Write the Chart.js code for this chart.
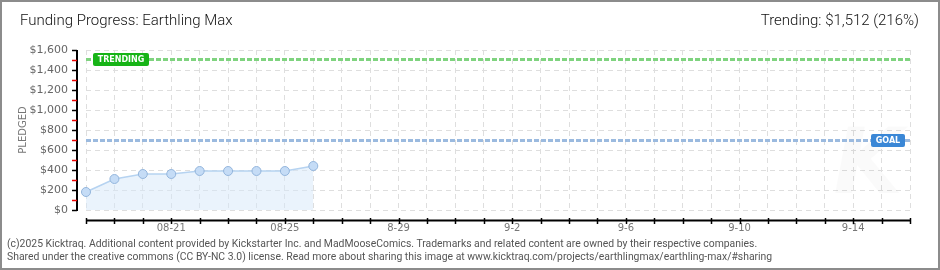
<!DOCTYPE html>
<html>
<head>
<meta charset="utf-8">
<script src="https://cdn.jsdelivr.net/npm/chart.js@4/dist/chart.umd.min.js"></script>
<style>
  html, body { margin: 0; padding: 0; background: #fff; }
  #wrap { position: relative; width: 940px; height: 270px; overflow: hidden; }
  #wrap canvas { position: absolute; left: 0; top: 0; }
  #frame { position: absolute; inset: 0; border: 2px solid #8c8c8c; pointer-events: none; }
  .title { position: absolute; top: 11px; font-family: Roboto, "DejaVu Sans", sans-serif; font-weight: 300; font-size: 15px; color: #111; white-space: nowrap; }
  #title { left: 20px; }
  #trend { right: 21px; }
  .foot { position: absolute; left: 7px; font-family: Roboto, "DejaVu Sans", sans-serif; font-size: 10.4px; color: #555; white-space: nowrap; }
</style>
</head>
<body>
<div id="wrap">
  <canvas id="chart" width="940" height="270"></canvas>
  <div class="title" id="title">Funding Progress: Earthling Max</div>
  <div class="title" id="trend">Trending: $1,512 (216%)</div>
  <div class="foot" style="top:237px">(c)2025 Kicktraq. Additional content provided by Kickstarter Inc. and MadMooseComics. Trademarks and related content are owned by their respective companies.</div>
  <div class="foot" style="top:250px">Shared under the creative commons (CC BY-NC 3.0) license. Read more about sharing this image at www.kicktraq.com/projects/earthlingmax/earthling-max/#sharing</div>
  <div id="frame"></div>
</div>
<script>
// Kicktraq funding progress — Earthling Max
const days = [
  '08-18', '08-19', '08-20', '08-21', '08-22', '08-23', '08-24', '08-25', '08-26', '08-27',
  '08-28', '08-29', '08-30', '08-31', '09-01', '09-02', '09-03', '09-04', '09-05', '09-06',
  '09-07', '09-08', '09-09', '09-10', '09-11', '09-12', '09-13', '09-14', '09-15', '09-16',
];
const pledged = [180, 310, 360, 360, 390, 390, 390, 390, 440];

const tickDays = ['08-21', '08-25', '08-29', '09-02', '09-06', '09-10', '09-14'];
const tickLabels = ['08-21', '08-25', '8-29', '9-2', '9-6', '9-10', '9-14'];

const yTicks = [0, 200, 400, 600, 800, 1000, 1200, 1400, 1600];
const goal = 700;
const trending = 1512;

const AXIS_FONT = "'DejaVu Sans', sans-serif";

// axis lines + tick marks sit a little outside the plot area
const axesPlugin = {
  id: 'kAxes',
  afterDraw(chart) {
    const { ctx, scales: { x, y } } = chart;
    ctx.save();
    // y axis
    const yx = 77;
    ctx.strokeStyle = '#000';
    ctx.lineWidth = 2;
    ctx.beginPath();
    ctx.moveTo(yx, y.getPixelForValue(1600));
    ctx.lineTo(yx, y.getPixelForValue(0) + 1);
    ctx.stroke();
    for (let v = 0; v <= 1600; v += 100) {
      const py = Math.round(y.getPixelForValue(v)) + 0.5;
      ctx.strokeStyle = v % 200 === 0 ? '#000' : '#e00';
      ctx.lineWidth = 1.5;
      ctx.beginPath();
      ctx.moveTo(72, py);
      ctx.lineTo(yx, py);
      ctx.stroke();
    }
    // x axis
    const xy = 220.5;
    ctx.strokeStyle = '#000';
    ctx.lineWidth = 2;
    ctx.beginPath();
    ctx.moveTo(x.getPixelForValue(0), xy);
    ctx.lineTo(x.getPixelForValue(days.length - 1), xy);
    ctx.stroke();
    ctx.lineWidth = 1.5;
    days.forEach((d, i) => {
      const px = Math.round(x.getPixelForValue(i)) + 0.5;
      ctx.beginPath();
      ctx.moveTo(px, 218);
      ctx.lineTo(px, 224);
      ctx.stroke();
    });
    ctx.restore();
  },
};

function tag(ctx, text, x0, yMid, w, color) {
  const h = 13;
  ctx.fillStyle = color;
  ctx.beginPath();
  ctx.roundRect(x0, yMid - h / 2, w, h, 2);
  ctx.fill();
  ctx.fillStyle = '#fff';
  ctx.font = "bold 8px 'DejaVu Sans', sans-serif";
  ctx.textBaseline = 'middle';
  ctx.textAlign = 'center';
  ctx.fillText(text, x0 + w / 2, yMid + 0.5);
}

const targetsPlugin = {
  id: 'kTargets',
  beforeDatasetsDraw(chart) {
    const { ctx, chartArea: a, scales: { y } } = chart;
    ctx.save();
    // faint watermark
    ctx.fillStyle = 'rgba(0,0,0,0.018)';
    ctx.font = "italic bold 90px 'DejaVu Sans', sans-serif";
    ctx.textAlign = 'center';
    ctx.textBaseline = 'middle';
    ctx.fillText('K', 868, 170);

    ctx.lineWidth = 3;
    ctx.setLineDash([5, 2]);
    const ty = Math.round(y.getPixelForValue(trending)) + 0.5;
    ctx.strokeStyle = '#7fd37f';
    ctx.beginPath();
    ctx.moveTo(a.left, ty);
    ctx.lineTo(a.right, ty);
    ctx.stroke();
    const gy = Math.round(y.getPixelForValue(goal)) + 0.5;
    ctx.strokeStyle = '#9bbadf';
    ctx.beginPath();
    ctx.moveTo(a.left, gy);
    ctx.lineTo(a.right, gy);
    ctx.stroke();
    ctx.setLineDash([]);
    tag(ctx, 'TRENDING', 93, ty, 56, '#17b417');
    tag(ctx, 'GOAL', 871, gy, 34, '#3a87d6');
    ctx.restore();
  },
};

new Chart(document.getElementById('chart'), {
  type: 'line',
  data: {
    labels: days,
    datasets: [{
      label: 'Pledged',
      data: pledged,
      borderColor: '#b6d3f1',
      borderWidth: 1.5,
      backgroundColor: 'rgba(214,232,250,0.5)',
      fill: 'origin',
      tension: 0,
      pointRadius: 4.5,
      pointBackgroundColor: '#c5dcf6',
      pointBorderColor: '#93b5dc',
      pointBorderWidth: 1,
    }],
  },
  options: {
    responsive: false,
    animation: false,
    layout: { padding: { left: 0, right: 30, top: 50, bottom: 0 } },
    plugins: { legend: { display: false }, tooltip: { enabled: false } },
    scales: {
      x: {
        offset: false,
        afterFit: (s) => { s.height = 60; },
        border: { display: false, dash: [5, 4] },
        grid: { color: '#dedede', drawTicks: false },
        ticks: {
          autoSkip: false,
          maxRotation: 0,
          padding: 12,
          color: '#777',
          font: { family: AXIS_FONT, size: 10 },
          callback: (v, i) => {
            const k = tickDays.indexOf(days[i]);
            return k >= 0 ? tickLabels[k] : '';
          },
        },
      },
      y: {
        min: 0,
        max: 1600,
        afterFit: (s) => { s.width = 86; },
        afterBuildTicks: (s) => { s.ticks = yTicks.map((v) => ({ value: v })); },
        border: { display: false, dash: [5, 4] },
        grid: { color: '#dedede', drawTicks: false },
        title: {
          display: true,
          text: 'PLEDGED',
          color: '#777',
          font: { family: AXIS_FONT, size: 10 },
          padding: { top: 17, bottom: 0 },
        },
        ticks: {
          padding: 18,
          color: '#666',
          font: { family: AXIS_FONT, size: 11 },
          callback: (v) => '$' + v.toLocaleString('en-US'),
        },
      },
    },
  },
  plugins: [targetsPlugin, axesPlugin],
});
</script>
</body>
</html>
